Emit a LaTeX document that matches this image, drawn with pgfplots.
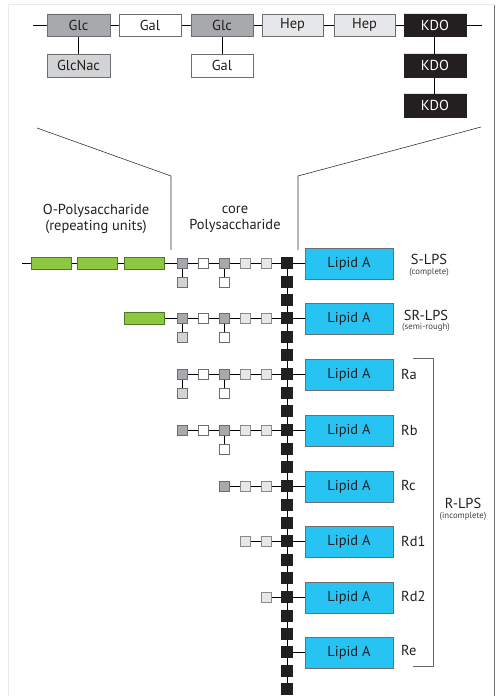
\documentclass[border=0pt]{standalone}
\usepackage{pgfplots}
\pgfplotsset{compat=1.18}
\usepackage{fontspec}
\setmainfont{PT Sans}
\definecolor{glc}{HTML}{A7A9AC}
\definecolor{nac}{HTML}{D1D3D4}
\definecolor{hep}{HTML}{E6E7E8}
\definecolor{kdo}{HTML}{231F20}
\definecolor{edge}{HTML}{6D6E71}
\definecolor{opoly}{HTML}{8DC63F}
\definecolor{opedge}{HTML}{4E7A27}
\definecolor{lipid}{HTML}{27C4F3}
\tikzset{
    lbl/.style={font=\fontsize{14.5}{16}\selectfont, text=kdo, inner sep=1pt},
    small/.style={font=\fontsize{8.8}{9.5}\selectfont, text=black!75, inner sep=0.5pt},
    sq/.style={only marks, mark=square*, mark size=5pt, mark options={line width=0.8pt}},
}
% box from (x1,y1) to (x2,y2)
\newcommand{\rect}[5]{\addplot[#5] coordinates {(#1,#2) (#3,#2) (#3,#4) (#1,#4) (#1,#2)};}
\begin{document}
\begin{tikzpicture}
\begin{axis}[
    scale only axis, width=496bp, height=696bp,
    xmin=0, xmax=496, ymin=0, ymax=696,
    y dir=reverse, axis lines=none,
    clip=false,
]
% frame
\addplot[black!8, line width=1pt] coordinates {(8,696) (8,5) (494,5)};
\addplot[black!55, line width=1pt] coordinates {(494.5,5) (494.5,696)};

% ---- top: core structure ----
\addplot[black, line width=0.7pt] coordinates {(33,25) (482,25)};
\addplot[black, line width=0.7pt] coordinates {(78,25) (78,65)};
\addplot[black, line width=0.7pt] coordinates {(222,25) (222,65)};
\addplot[black, line width=0.7pt] coordinates {(434,25) (434,105)};
\rect{47}{14}{110}{36}{draw=edge, fill=glc}
\rect{119}{14}{181}{36}{draw=edge, fill=white}
\rect{191}{14}{253}{36}{draw=edge, fill=glc}
\rect{262}{14}{323}{36}{draw=edge, fill=hep}
\rect{334}{14}{395}{36}{draw=edge, fill=hep}
\rect{404}{14}{466}{36}{draw=kdo, fill=kdo}
\rect{47}{54}{110}{77}{draw=edge, fill=nac}
\rect{191}{54}{253}{77}{draw=edge, fill=white}
\rect{404}{54}{466}{77}{draw=kdo, fill=kdo}
\rect{404}{94}{466}{117}{draw=kdo, fill=kdo}
\node[lbl] at (axis cs:78.5,25) {Glc};
\node[lbl] at (axis cs:150,25) {Gal};
\node[lbl] at (axis cs:222,25) {Glc};
\node[lbl] at (axis cs:292.5,25) {Hep};
\node[lbl] at (axis cs:364.5,25) {Hep};
\node[lbl, text=white] at (axis cs:435,25) {KDO};
\node[lbl] at (axis cs:78.5,65.5) {GlcNac};
\node[lbl] at (axis cs:222,65.5) {Gal};
\node[lbl, text=white] at (axis cs:435,65.5) {KDO};
\node[lbl, text=white] at (axis cs:435,105.5) {KDO};

% zoom lines
\addplot[black!80, line width=0.6pt] coordinates {(37,128) (171,176) (171,250)};
\addplot[black!80, line width=0.6pt] coordinates {(481,127) (298,176) (298,250)};
\node[lbl, align=center] at (axis cs:96,219) {O-Polysaccharide\\(repeating units)};
\node[lbl, align=center] at (axis cs:235,219) {core\\Polysaccharide};

% ---- KDO chain ----
\addplot[black, line width=0.7pt] coordinates {(287,263) (287,689)};

% ---- connecting lines of each row ----
\addplot[black, line width=0.7pt] coordinates {(22,263) (305,263)};
\addplot[black, line width=0.7pt] coordinates {(164,318) (305,318)};
\addplot[black, line width=0.7pt] coordinates {(182,374) (305,374)};
\addplot[black, line width=0.7pt] coordinates {(182,430) (305,430)};
\addplot[black, line width=0.7pt] coordinates {(224,486) (305,486)};
\addplot[black, line width=0.7pt] coordinates {(245,541) (305,541)};
\addplot[black, line width=0.7pt] coordinates {(266,597) (305,597)};
\addplot[black, line width=0.7pt] coordinates {(287,652) (305,652)};
% branches
\addplot[black, line width=0.7pt] coordinates {(182,263) (182,282)};
\addplot[black, line width=0.7pt] coordinates {(224,263) (224,282)};
\addplot[black, line width=0.7pt] coordinates {(182,318) (182,337)};
\addplot[black, line width=0.7pt] coordinates {(224,318) (224,337)};
\addplot[black, line width=0.7pt] coordinates {(182,374) (182,393)};
\addplot[black, line width=0.7pt] coordinates {(224,374) (224,393)};
\addplot[black, line width=0.7pt] coordinates {(224,430) (224,449)};

% O-polysaccharide units
\rect{31}{257}{71}{269}{draw=opedge, fill=opoly}
\rect{77}{257}{117}{269}{draw=opedge, fill=opoly}
\rect{124}{257}{164}{269}{draw=opedge, fill=opoly}
\rect{124}{312}{164}{324}{draw=opedge, fill=opoly}

% Glc (dark grey)
\addplot[sq, mark options={draw=edge, fill=glc}] coordinates {
(182,263) (224,263) (182,318) (224,318) (182,374) (224,374)
(182,430) (224,430) (224,486)};
% Gal (white)
\addplot[sq, mark options={draw=edge, fill=white}] coordinates {
(203,263) (224,282) (203,318) (224,337) (203,374) (224,393)
(203,430) (224,449)};
% GlcNac (light grey)
\addplot[sq, mark options={draw=edge, fill=nac}] coordinates {
(182,282) (182,337) (182,393)};
% Hep
\addplot[sq, mark options={draw=edge!80, fill=hep}] coordinates {
(245,263) (266,263) (245,318) (266,318) (245,374) (266,374)
(245,430) (266,430) (245,486) (266,486) (245,541) (266,541) (266,597)};
% KDO
\addplot[sq, mark size=5.5pt, mark options={draw=kdo, fill=kdo}] coordinates {
(287,263) (287,281.5) (287,300)
(287,318) (287,336.5) (287,355)
(287,374) (287,392.5) (287,411)
(287,430) (287,448.5) (287,467)
(287,486) (287,504.5) (287,523)
(287,541) (287,559.5) (287,578)
(287,597) (287,615.5) (287,634)
(287,652) (287,670.5) (287,689)};

% Lipid A
\rect{305}{248}{393}{279}{draw=edge, fill=lipid}
\rect{305}{303}{393}{334}{draw=edge, fill=lipid}
\rect{305}{359}{393}{390}{draw=edge, fill=lipid}
\rect{305}{415}{393}{446}{draw=edge, fill=lipid}
\rect{305}{471}{393}{502}{draw=edge, fill=lipid}
\rect{305}{526}{393}{557}{draw=edge, fill=lipid}
\rect{305}{582}{393}{613}{draw=edge, fill=lipid}
\rect{305}{637}{393}{668}{draw=edge, fill=lipid}
\node[lbl] at (axis cs:349,263.5) {Lipid A};
\node[lbl] at (axis cs:349,318.5) {Lipid A};
\node[lbl] at (axis cs:349,374.5) {Lipid A};
\node[lbl] at (axis cs:349,430.5) {Lipid A};
\node[lbl] at (axis cs:349,486.5) {Lipid A};
\node[lbl] at (axis cs:349,541.5) {Lipid A};
\node[lbl] at (axis cs:349,597.5) {Lipid A};
\node[lbl] at (axis cs:349,652.5) {Lipid A};

% labels
\node[lbl] at (axis cs:429,259) {S-LPS};
\node[small] at (axis cs:429,272) {(complete)};
\node[lbl] at (axis cs:426,315) {SR-LPS};
\node[small] at (axis cs:426,327.5) {(semi-rough)};
\node[lbl, anchor=west] at (axis cs:400,374) {Ra};
\node[lbl, anchor=west] at (axis cs:400,430) {Rb};
\node[lbl, anchor=west] at (axis cs:400,485) {Rc};
\node[lbl, anchor=west] at (axis cs:400,541) {Rd1};
\node[lbl, anchor=west] at (axis cs:400,596) {Rd2};
\node[lbl, anchor=west] at (axis cs:400,650) {Re};
\addplot[black!60, line width=0.8pt] coordinates {(413,358) (433,358) (433,666) (413,666)};
\node[lbl] at (axis cs:463,503.5) {R-LPS};
\node[small] at (axis cs:463,516.5) {(incomplete)};
\end{axis}
\pgfresetboundingbox
\path[use as bounding box] (current axis.south west) rectangle (current axis.north east);
\end{tikzpicture}
\end{document}
